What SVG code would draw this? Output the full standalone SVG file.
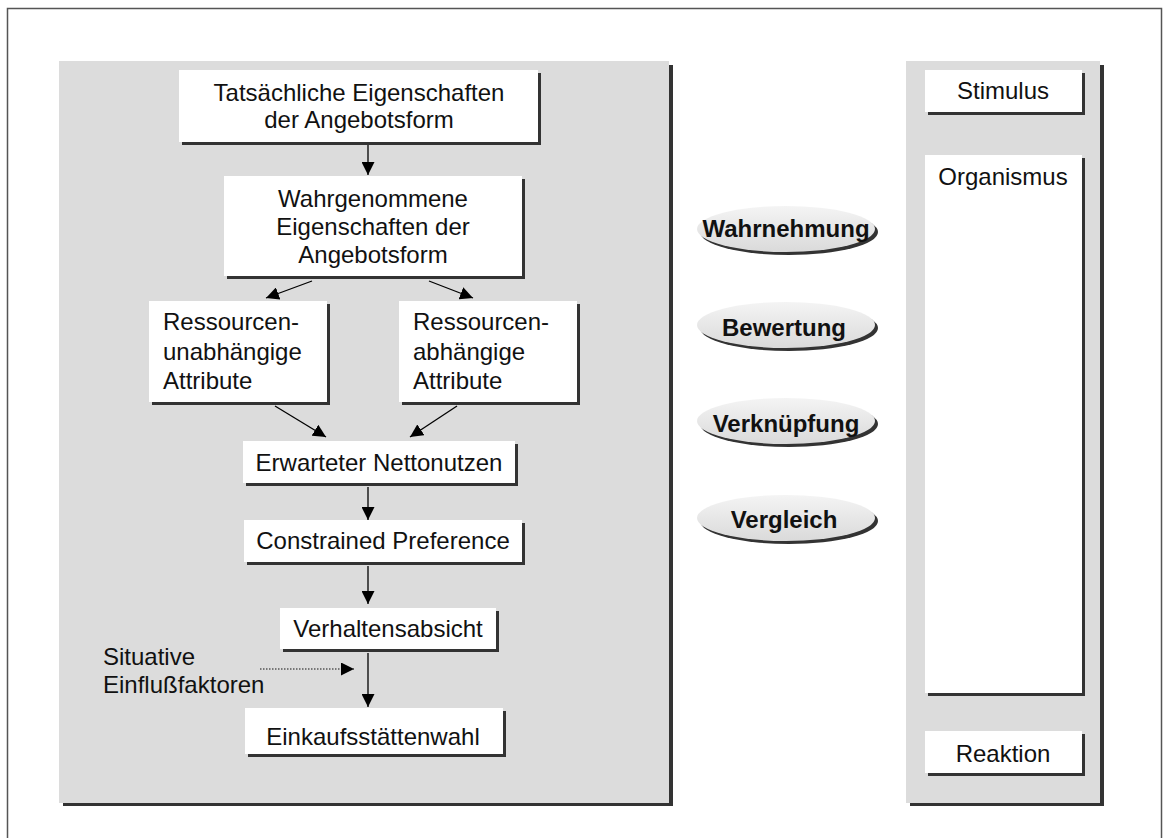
<svg xmlns="http://www.w3.org/2000/svg" width="1165" height="838" viewBox="0 0 1165 838">
<defs>
<marker id="ah" markerUnits="userSpaceOnUse" markerWidth="14" markerHeight="13" refX="13" refY="6.5" orient="auto">
<path d="M0,0 L13,6.5 L0,13 Z" fill="#000"/>
</marker>
<linearGradient id="eg" x1="0" y1="0" x2="0" y2="1">
<stop offset="0" stop-color="#f4f4f4"/>
<stop offset="1" stop-color="#dadada"/>
</linearGradient>
<style>
.t{font-family:"Liberation Sans",Arial,sans-serif;font-size:24px;fill:#111}
.c{text-anchor:middle}
.b{font-weight:bold}
.box{fill:#fff}
.sh{fill:#333}
.pan{fill:#dcdcdc}
.con{stroke:#000;stroke-width:1.3;fill:none;marker-end:url(#ah)}
.dot{stroke:#555;stroke-width:1.3;stroke-dasharray:1.5 1.5;fill:none;marker-end:url(#ah)}
.ell{fill:url(#eg)}
</style>
</defs>
<rect x="0" y="0" width="1165" height="838" fill="#fff"/>
<rect x="7.5" y="8.5" width="1154" height="840" fill="none" stroke="#555" stroke-width="1.5"/>

<g id="left-panel">
<rect class="sh" x="63" y="65" width="610" height="741"/>
<rect class="pan" x="59" y="61" width="610" height="742"/>
</g>
<g id="right-panel">
<rect class="sh" x="910" y="65" width="194" height="741"/>
<rect class="pan" x="906" y="61" width="194" height="742"/>
</g>

<g id="n-tatsaechlich">
<rect class="sh" x="182" y="73" width="359" height="72"/>
<rect class="box" x="179" y="70" width="359" height="72"/>
<text class="t c" x="359" y="101">Tatsächliche Eigenschaften</text>
<text class="t c" x="359" y="128">der Angebotsform</text>
</g>
<g id="n-wahrgenommen">
<rect class="sh" x="227" y="179" width="298" height="100"/>
<rect class="box" x="224" y="176" width="298" height="100"/>
<text class="t c" x="373" y="207">Wahrgenommene</text>
<text class="t c" x="373" y="235">Eigenschaften der</text>
<text class="t c" x="373" y="263">Angebotsform</text>
</g>
<g id="n-unabhaengig">
<rect class="sh" x="152" y="304" width="178" height="101"/>
<rect class="box" x="149" y="301" width="178" height="101"/>
<text class="t" x="163" y="330">Ressourcen-</text>
<text class="t" x="163" y="360">unabhängige</text>
<text class="t" x="163" y="389">Attribute</text>
</g>
<g id="n-abhaengig">
<rect class="sh" x="402" y="304" width="178" height="101"/>
<rect class="box" x="399" y="301" width="178" height="101"/>
<text class="t" x="413" y="330">Ressourcen-</text>
<text class="t" x="413" y="360">abhängige</text>
<text class="t" x="413" y="389">Attribute</text>
</g>
<g id="n-nettonutzen">
<rect class="sh" x="246" y="444" width="272" height="42"/>
<rect class="box" x="243" y="441" width="272" height="42"/>
<text class="t c" x="379" y="471">Erwarteter Nettonutzen</text>
</g>
<g id="n-preference">
<rect class="sh" x="247" y="523" width="278" height="42"/>
<rect class="box" x="244" y="520" width="278" height="42"/>
<text class="t c" x="383" y="549">Constrained Preference</text>
</g>
<g id="n-verhaltensabsicht">
<rect class="sh" x="283" y="611" width="216" height="41"/>
<rect class="box" x="280" y="608" width="216" height="41"/>
<text class="t c" x="388" y="637">Verhaltensabsicht</text>
</g>
<g id="n-einkaufsstaettenwahl">
<rect class="sh" x="248" y="711" width="258" height="46"/>
<rect class="box" x="245" y="708" width="258" height="46"/>
<text class="t c" x="373" y="745">Einkaufsstättenwahl</text>
</g>
<g id="n-situative">
<text class="t" x="103" y="665">Situative</text>
<text class="t" x="103" y="693">Einflußfaktoren</text>
</g>

<g id="n-stimulus">
<rect class="sh" x="928" y="73" width="157" height="42"/>
<rect class="box" x="925" y="70" width="157" height="42"/>
<text class="t c" x="1003" y="99">Stimulus</text>
</g>
<g id="n-organismus">
<rect class="sh" x="928" y="158" width="157" height="538"/>
<rect class="box" x="925" y="155" width="157" height="538"/>
<text class="t c" x="1003" y="185">Organismus</text>
</g>
<g id="n-reaktion">
<rect class="sh" x="928" y="734" width="157" height="42"/>
<rect class="box" x="925" y="731" width="157" height="42"/>
<text class="t c" x="1003" y="762">Reaktion</text>
</g>

<g id="n-wahrnehmung">
<ellipse class="sh" cx="789" cy="232" rx="89" ry="23"/>
<ellipse class="ell" cx="786" cy="229" rx="89" ry="23"/>
<text class="t c b" x="786" y="237">Wahrnehmung</text>
</g>
<g id="n-bewertung">
<ellipse class="sh" cx="789" cy="328" rx="89" ry="23"/>
<ellipse class="ell" cx="786" cy="325" rx="89" ry="23"/>
<text class="t c b" x="784" y="336">Bewertung</text>
</g>
<g id="n-verknuepfung">
<ellipse class="sh" cx="789" cy="424" rx="89" ry="23"/>
<ellipse class="ell" cx="786" cy="421" rx="89" ry="23"/>
<text class="t c b" x="786" y="432">Verknüpfung</text>
</g>
<g id="n-vergleich">
<ellipse class="sh" cx="789" cy="521" rx="89" ry="23"/>
<ellipse class="ell" cx="786" cy="518" rx="89" ry="23"/>
<text class="t c b" x="784" y="528">Vergleich</text>
</g>

<g id="connectors">
<line class="con" x1="368" y1="145" x2="368" y2="175"/>
<line class="con" x1="312" y1="281" x2="266" y2="298"/>
<line class="con" x1="429" y1="281" x2="473" y2="298"/>
<line class="con" x1="275" y1="406" x2="326" y2="437"/>
<line class="con" x1="457" y1="406" x2="410" y2="437"/>
<line class="con" x1="368" y1="487" x2="368" y2="520"/>
<line class="con" x1="368" y1="566" x2="368" y2="604"/>
<line class="con" x1="368" y1="653" x2="368" y2="707"/>
<line class="dot" x1="260" y1="669" x2="354" y2="669"/>
</g>
</svg>
